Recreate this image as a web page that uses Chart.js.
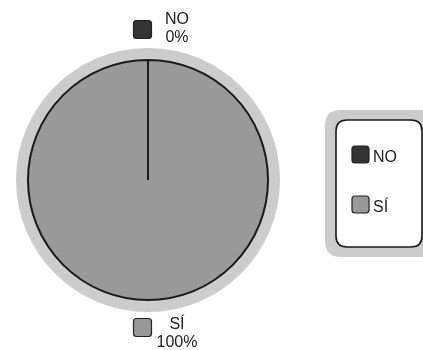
<!DOCTYPE html>
<html>
<head>
<meta charset="utf-8">
<script src="https://cdn.jsdelivr.net/npm/chart.js@4/dist/chart.umd.min.js"></script>
<style>
html,body{margin:0;padding:0;background:#fff;}
#wrap{width:423px;height:350px;position:relative;}
</style>
</head>
<body>
<div id="wrap"><canvas id="c" width="423" height="350"></canvas></div>
<script>
const categories = ["NO", "SÍ"];
const values = [0, 100];
const percentLabels = ["0%", "100%"];
const colors = ["#333333", "#999999"];

const FONT = '"Liberation Sans", Arial, sans-serif';

function roundRect(ctx, x, y, w, h, r) {
  ctx.beginPath();
  ctx.moveTo(x + r, y);
  ctx.lineTo(x + w - r, y);
  ctx.quadraticCurveTo(x + w, y, x + w, y + r);
  ctx.lineTo(x + w, y + h - r);
  ctx.quadraticCurveTo(x + w, y + h, x + w - r, y + h);
  ctx.lineTo(x + r, y + h);
  ctx.quadraticCurveTo(x, y + h, x, y + h - r);
  ctx.lineTo(x, y + r);
  ctx.quadraticCurveTo(x, y, x + r, y);
  ctx.closePath();
}

function swatch(ctx, x, y, s, color) {
  roundRect(ctx, x, y, s, s, 3);
  ctx.fillStyle = color;
  ctx.fill();
  ctx.lineWidth = 1.2;
  ctx.strokeStyle = "#222";
  ctx.stroke();
}

const ringPlugin = {
  id: "ring",
  beforeDatasetsDraw(chart) {
    const arc = chart.getDatasetMeta(0).data[1];
    const ctx = chart.ctx;
    ctx.save();
    ctx.beginPath();
    ctx.arc(arc.x, arc.y, arc.outerRadius + 12, 0, Math.PI * 2);
    ctx.fillStyle = "#cccccc";
    ctx.fill();
    ctx.restore();
  }
};

const labelPlugin = {
  id: "labels",
  afterDatasetsDraw(chart) {
    const ctx = chart.ctx;
    const meta = chart.getDatasetMeta(0);
    ctx.save();
    ctx.font = "16px " + FONT;
    ctx.textAlign = "center";
    ctx.textBaseline = "alphabetic";
    meta.data.forEach((arc, i) => {
      const mid = (arc.startAngle + arc.endAngle) / 2;
      const d = arc.outerRadius + 12 + 17;
      const bx = arc.x + Math.cos(mid) * d;
      const by = arc.y + Math.sin(mid) * d - 1.5;
      swatch(ctx, bx - 14.5, by - 9, 18, colors[i]);
      const top = Math.sin(mid) < 0;
      const b1 = top ? by - 5.5 : by + 1.5;
      ctx.fillStyle = "#222";
      ctx.fillText(categories[i], bx + 29, b1);
      ctx.fillText(percentLabels[i], bx + 29, b1 + 17.5);
    });
    ctx.restore();
  }
};

const legendPlugin = {
  id: "boxLegend",
  afterDraw(chart) {
    const ctx = chart.ctx;
    ctx.save();
    roundRect(ctx, 325, 110, 118, 147, 16);
    ctx.fillStyle = "#cccccc";
    ctx.fill();
    roundRect(ctx, 336, 120, 86, 127, 11);
    ctx.fillStyle = "#ffffff";
    ctx.fill();
    ctx.lineWidth = 1.6;
    ctx.strokeStyle = "#1a1a1a";
    ctx.stroke();
    ctx.font = "16px " + FONT;
    ctx.textAlign = "left";
    ctx.textBaseline = "alphabetic";
    categories.forEach((c, i) => {
      const y = 154.5 + i * 50;
      swatch(ctx, 352, y - 8.5, 17, colors[i]);
      ctx.fillStyle = "#222";
      ctx.fillText(c, 373, y + 7.5);
    });
    ctx.restore();
  }
};

new Chart(document.getElementById("c"), {
  type: "pie",
  data: {
    labels: categories,
    datasets: [{
      data: values,
      backgroundColor: colors,
      borderColor: "#1a1a1a",
      borderWidth: 2
    }]
  },
  options: {
    responsive: false,
    animation: false,
    layout: { padding: { left: 27, right: 154, top: 59, bottom: 49 } },
    plugins: { legend: { display: false }, tooltip: { enabled: false } }
  },
  plugins: [ringPlugin, labelPlugin, legendPlugin]
});
</script>
</body>
</html>
